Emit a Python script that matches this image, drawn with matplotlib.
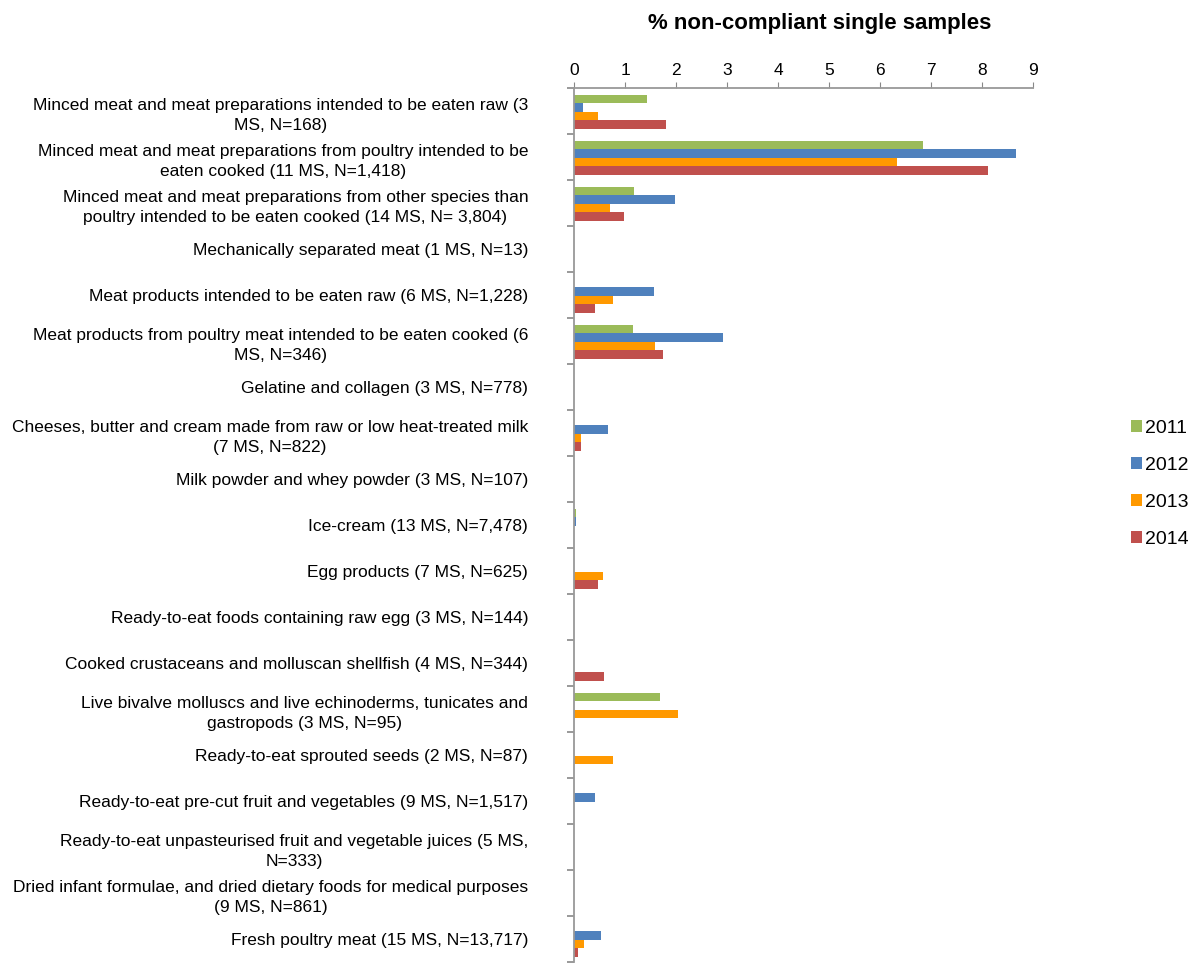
import matplotlib
matplotlib.use("Agg")
import matplotlib.pyplot as plt
import numpy as np

plt.rcParams['font.family'] = ['Liberation Sans', 'DejaVu Sans']

categories = [
    "Minced meat and meat preparations intended to be eaten raw (3\nMS, N=168)",
    "Minced meat and meat preparations from poultry intended to be\neaten cooked (11 MS, N=1,418)",
    "Minced meat and meat preparations from other species than\npoultry intended to be eaten cooked (14 MS, N= 3,804)",
    "Mechanically separated meat (1 MS, N=13)",
    "Meat products intended to be eaten raw (6 MS, N=1,228)",
    "Meat products from poultry meat intended to be eaten cooked (6\nMS, N=346)",
    "Gelatine and collagen (3 MS, N=778)",
    "Cheeses, butter and cream made from raw or low heat-treated milk\n(7 MS, N=822)",
    "Milk powder and whey powder (3 MS, N=107)",
    "Ice-cream (13 MS, N=7,478)",
    "Egg products (7 MS, N=625)",
    "Ready-to-eat foods containing raw egg (3 MS, N=144)",
    "Cooked crustaceans and molluscan shellfish (4 MS, N=344)",
    "Live bivalve molluscs and live echinoderms, tunicates and\ngastropods (3 MS, N=95)",
    "Ready-to-eat sprouted seeds (2 MS, N=87)",
    "Ready-to-eat pre-cut fruit and vegetables (9 MS, N=1,517)",
    "Ready-to-eat unpasteurised fruit and vegetable juices (5 MS,\nN=333)",
    "Dried infant formulae, and dried dietary foods for medical purposes\n(9 MS, N=861)",
    "Fresh poultry meat (15 MS, N=13,717)",
]

years = ["2011", "2012", "2013", "2014"]
v2011 = [1.44, 6.85, 1.18, 0, 0, 1.15, 0, 0, 0, 0.04, 0, 0, 0, 1.69, 0, 0, 0, 0, 0]
v2012 = [0.18, 8.67, 1.98, 0, 1.57, 2.93, 0, 0.67, 0, 0.03, 0, 0, 0, 0, 0, 0.41, 0, 0, 0.52]
v2013 = [0.48, 6.33, 0.71, 0, 0.77, 1.58, 0, 0.13, 0, 0, 0.56, 0, 0, 2.03, 0.76, 0, 0, 0, 0.20]
v2014 = [1.80, 8.12, 0.99, 0, 0.42, 1.74, 0, 0.13, 0, 0, 0.48, 0, 0.58, 0, 0, 0, 0, 0, 0.08]
series = [v2011, v2012, v2013, v2014]
colors = ["#9BBB59", "#4F81BD", "#FF9900", "#C0504D"]

fig = plt.figure(figsize=(11.96, 9.65), dpi=100)
ax = fig.add_axes([574/1196, 1 - 962/965, (1033-574)/1196, (962-88)/965])

n = len(categories)
y = np.arange(n)
bh = 0.185
offsets = [-1.5*bh, -0.5*bh, 0.5*bh, 1.5*bh]
for vals, col, yr, off in zip(series, colors, years, offsets):
    ax.barh(y + off + 0.02, vals, height=bh, color=col, label=yr, linewidth=0)

ax.set_ylim(n - 0.5, -0.5)
ax.set_xlim(0, 9)
ax.set_xticks(range(10))
ax.xaxis.tick_top()
ax.tick_params(axis='x', direction='out', length=4, color='#888888', labelsize=12.5, pad=3)
ax.set_yticks(y)
ax.set_yticklabels(categories, fontsize=12.5, multialignment='center', linespacing=1.45)
ax.tick_params(axis='y', which='major', length=0, pad=33)
ax.set_yticks(np.arange(-0.5, n, 1.0), minor=True)
ax.tick_params(axis='y', which='minor', length=5, color='#888888', direction='out', width=1.2)

for s in ['right', 'bottom']:
    ax.spines[s].set_visible(False)
for s in ['top', 'left']:
    ax.spines[s].set_color('#999999')
    ax.spines[s].set_linewidth(1.3)

fig.text(820/1196, 1 - 23/965, "% non-compliant single samples", ha='center', va='center',
         fontsize=16, fontweight='bold')

leg = fig.legend(loc='center left', bbox_to_anchor=(1113/1196, 1 - 484/965), frameon=False,
                 fontsize=14, handlelength=0.57, handleheight=0.57, handletextpad=0.15,
                 labelspacing=1.02, borderpad=0.4)

fig.savefig("out.png", dpi=100)
